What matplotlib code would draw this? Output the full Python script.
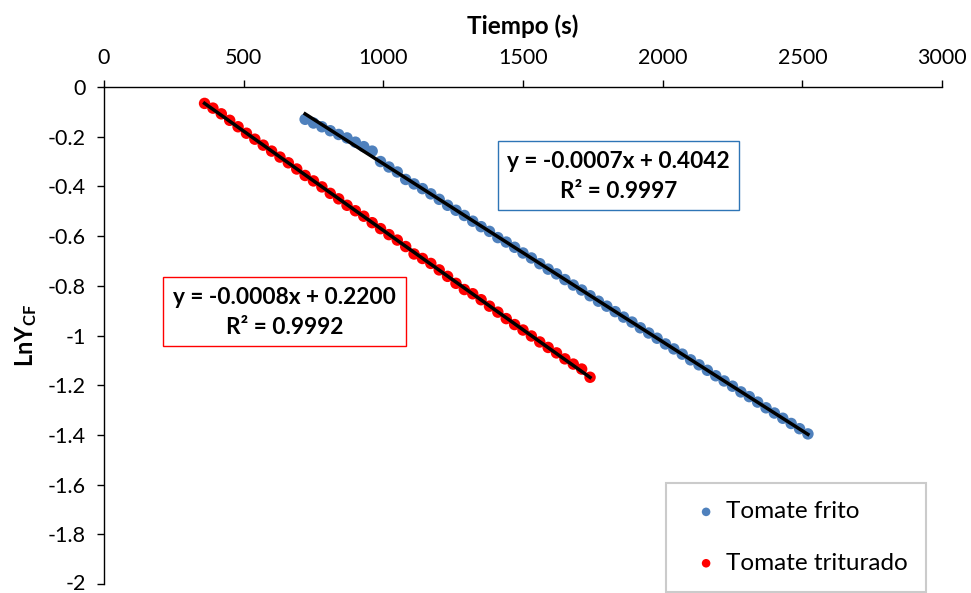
import numpy as np
import matplotlib
matplotlib.use("Agg")
import matplotlib.pyplot as plt
import matplotlib.transforms as mtransforms
from matplotlib.patches import Rectangle

plt.rcParams['font.family'] = ['Lato', 'DejaVu Sans']
plt.rcParams['axes.unicode_minus'] = False
plt.rcParams['mathtext.fontset'] = 'custom'
plt.rcParams['mathtext.rm'] = 'Lato'
plt.rcParams['mathtext.bf'] = 'Lato:bold'

# ---- data ----
t_frito = list(range(720, 2521, 30))
y_frito = [-0.130, -0.145, -0.160, -0.176, -0.191, -0.205, -0.222, -0.240, -0.258,
           -0.300, -0.322, -0.342, -0.372, -0.390, -0.409, -0.430, -0.452, -0.476,
           -0.496, -0.517, -0.540, -0.562, -0.581, -0.606, -0.624, -0.645, -0.668,
           -0.688, -0.711, -0.733, -0.752, -0.775, -0.797, -0.817, -0.840, -0.862,
           -0.882, -0.904, -0.926, -0.946, -0.969, -0.990, -1.011, -1.034, -1.054,
           -1.075, -1.098, -1.118, -1.140, -1.162, -1.183, -1.204, -1.227, -1.246,
           -1.268, -1.291, -1.312, -1.333, -1.354, -1.375, -1.396]

t_triturado = list(range(360, 1741, 30))
y_triturado = [-0.066, -0.085, -0.108, -0.134, -0.160, -0.186, -0.210, -0.234, -0.258,
               -0.282, -0.305, -0.330, -0.356, -0.378, -0.402, -0.428, -0.450, -0.476,
               -0.498, -0.520, -0.546, -0.570, -0.594, -0.616, -0.642, -0.672, -0.690,
               -0.710, -0.736, -0.762, -0.790, -0.815, -0.832, -0.856, -0.882, -0.906,
               -0.932, -0.956, -0.978, -1.002, -1.026, -1.048, -1.070, -1.094, -1.115,
               -1.135, -1.168]

labels = ['Tomate frito', 'Tomate triturado']
colors = ['#4F81BD', '#FF0000']
box_edges = ['#2E75B6', '#FF0000']
eq_texts = ['y = -0.0007x + 0.4042\nR² = 0.9997', 'y = -0.0008x + 0.2200\nR² = 0.9992']

x_ticks = list(range(0, 3001, 500))
y_ticks = [0, -0.2, -0.4, -0.6, -0.8, -1, -1.2, -1.4, -1.6, -1.8, -2]

# ---- figure ----
W, H = 971, 593
fig = plt.figure(figsize=(W / 100, H / 100), dpi=100)
ax = fig.add_axes([104 / W, 1 - 584 / H, (942 - 104) / W, (584 - 87) / H])

def fx(px):
    return px / W

def fy(py):
    return 1 - py / H

series = [(t_frito, y_frito), (t_triturado, y_triturado)]
handles = []
for (tx, ty), c, lab in zip(series, colors, labels):
    h = ax.scatter(tx, ty, s=68, color=c, edgecolors='none', zorder=2, label=lab)
    handles.append(h)
    p = np.polyfit(tx, ty, 1)
    xs = np.array([min(tx), max(tx)])
    ax.plot(xs, np.polyval(p, xs), color='black', lw=2.5, zorder=3)

ax.set_xlim(0, 3000)
ax.set_ylim(-2, 0)
ax.xaxis.tick_top()
ax.xaxis.set_label_position('top')
ax.set_xticks(x_ticks)
ax.set_xticklabels([str(v) for v in x_ticks])
ax.set_yticks(y_ticks)
ax.set_yticklabels(['{:g}'.format(v) for v in y_ticks])
for s in ['bottom', 'right']:
    ax.spines[s].set_visible(False)
for s in ['top', 'left']:
    ax.spines[s].set_linewidth(1.0)
    ax.spines[s].set_color('black')
ax.tick_params(axis='both', direction='out', length=5, width=1.0, labelsize=15.5, colors='black')
ax.tick_params(axis='x', pad=9)
ax.tick_params(axis='y', pad=8)

# nudge the bottom-most tick label slightly up so it stays inside the canvas
last = ax.get_yticklabels()[-1]
last.set_transform(last.get_transform() + mtransforms.ScaledTranslation(0, 2 / 100, fig.dpi_scale_trans))

ax.set_xlabel('Tiempo (s)', fontsize=17.5, fontweight='bold', labelpad=10)
ax.set_ylabel(r'$\mathbf{LnY_{CF}}$', fontsize=17, labelpad=6)

# equation boxes
boxes = [(498, 141, 739, 210), (163, 277, 406, 346)]
for (x0, y0, x1, y1), ec, txt in zip(boxes, box_edges, eq_texts):
    rect = Rectangle((fx(x0), fy(y1)), fx(x1) - fx(x0), fy(y0) - fy(y1),
                     transform=fig.transFigure, fill=True, facecolor='white',
                     edgecolor=ec, lw=1.0, zorder=5)
    fig.patches.append(rect)
    l1, l2 = txt.split('\n')
    fig.text(fx((x0 + x1) / 2), fy(y0 + 21), l1, ha='center', va='center',
             fontsize=16.3, fontweight='bold', zorder=6)
    fig.text(fx((x0 + x1) / 2), fy(y0 + 50), l2, ha='center', va='center',
             fontsize=16.3, fontweight='bold', zorder=6)

leg = fig.legend(handles=handles, labels=labels, loc='upper left',
                 bbox_to_anchor=(fx(666), fy(483)), fontsize=17.5, frameon=True,
                 fancybox=False, edgecolor='#BFBFBF', borderpad=0.75, labelspacing=1.25,
                 handlelength=1.8, handletextpad=-0.1, scatterpoints=1, markerscale=0.75,
                 borderaxespad=0)
leg.get_frame().set_linewidth(1.5)

fig.savefig('out.png', dpi=100)
